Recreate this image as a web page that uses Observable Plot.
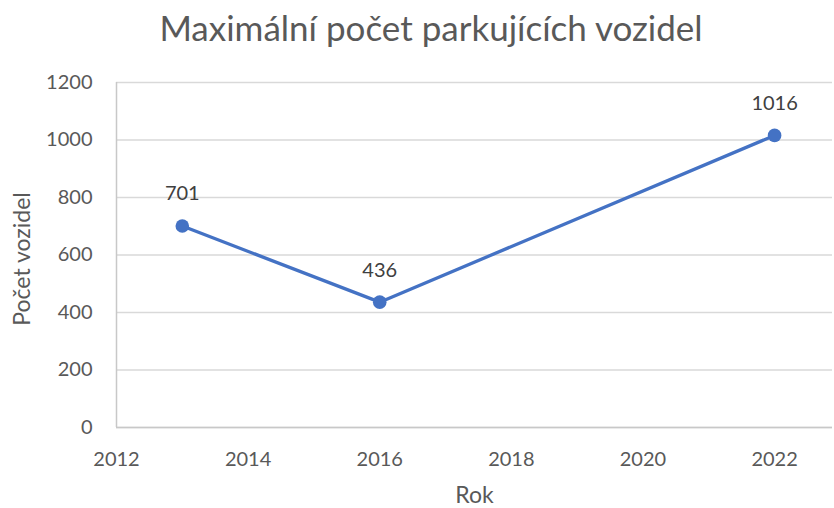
<!DOCTYPE html>
<html>
<head>
<meta charset="utf-8">
<script src="https://cdn.jsdelivr.net/npm/d3@7"></script>
<script src="https://cdn.jsdelivr.net/npm/@observablehq/plot@0.6"></script>
<style>
  body { margin: 0; background: #fff; }
  #wrap { position: relative; width: 834px; height: 508px; font-family: Lato, "Open Sans", sans-serif; }
  #title { position: absolute; left: 0; width: 862px; top: 6px; text-align: center; font-size: 35px; color: #595959; }
</style>
</head>
<body>
<div id="wrap"><div id="title">Maximální počet parkujících vozidel</div></div>
<script>
const years = [2013, 2016, 2022];
const counts = [701, 436, 1016];
const xTicks = [2012, 2014, 2016, 2018, 2020, 2022];
const yTicks = [0, 200, 400, 600, 800, 1000, 1200];
const xDomain = [2012, 2022.88];
const yDomain = [0, 1200];
const xLabel = "Rok";
const yLabel = "Počet vozidel";

const data = years.map((y, i) => ({year: y, count: counts[i]}));
const blue = "#4472C4";
const grey = "#595959";

const chart = Plot.plot({
  width: 834,
  height: 508,
  marginTop: 82,
  marginBottom: 81,
  marginLeft: 116,
  marginRight: 2,
  style: {fontFamily: "Lato, 'Open Sans', sans-serif", fontSize: "20px", color: grey, background: "transparent"},
  x: {domain: xDomain},
  y: {domain: yDomain},
  marks: [
    Plot.gridY(yTicks, {stroke: "#d9d9d9", strokeOpacity: 1, strokeWidth: 1.3}),
    Plot.ruleY([yDomain[0]], {stroke: "#c8c8c8", strokeWidth: 1.5}),
    Plot.ruleX([xDomain[0]], {stroke: "#c8c8c8", strokeWidth: 1.5}),
    Plot.axisX({ticks: xTicks, tickFormat: "d", tickSize: 0, tickPadding: 24, fill: grey, fontSize: 20, label: null}),
    Plot.axisY({ticks: yTicks, tickFormat: "d", tickSize: 0, tickPadding: 24, fill: grey, fontSize: 20, label: null}),
    Plot.text([xLabel], {text: d => d, frameAnchor: "bottom", lineAnchor: "middle", textAnchor: "middle", dy: 68, fill: grey, fontSize: 23}),
    Plot.text([yLabel], {text: d => d, frameAnchor: "left", lineAnchor: "middle", textAnchor: "middle", dx: -94, dy: 4, rotate: -90, fill: grey, fontSize: 23}),
    Plot.line(data, {x: "year", y: "count", stroke: blue, strokeWidth: 3.3}),
    Plot.dot(data, {x: "year", y: "count", r: 6.8, fill: blue}),
    Plot.text(data, {x: "year", y: "count", text: d => String(d.count), dy: -32, fill: "#404040", fontSize: 20})
  ]
});
document.getElementById("wrap").appendChild(chart);
</script>
</body>
</html>
